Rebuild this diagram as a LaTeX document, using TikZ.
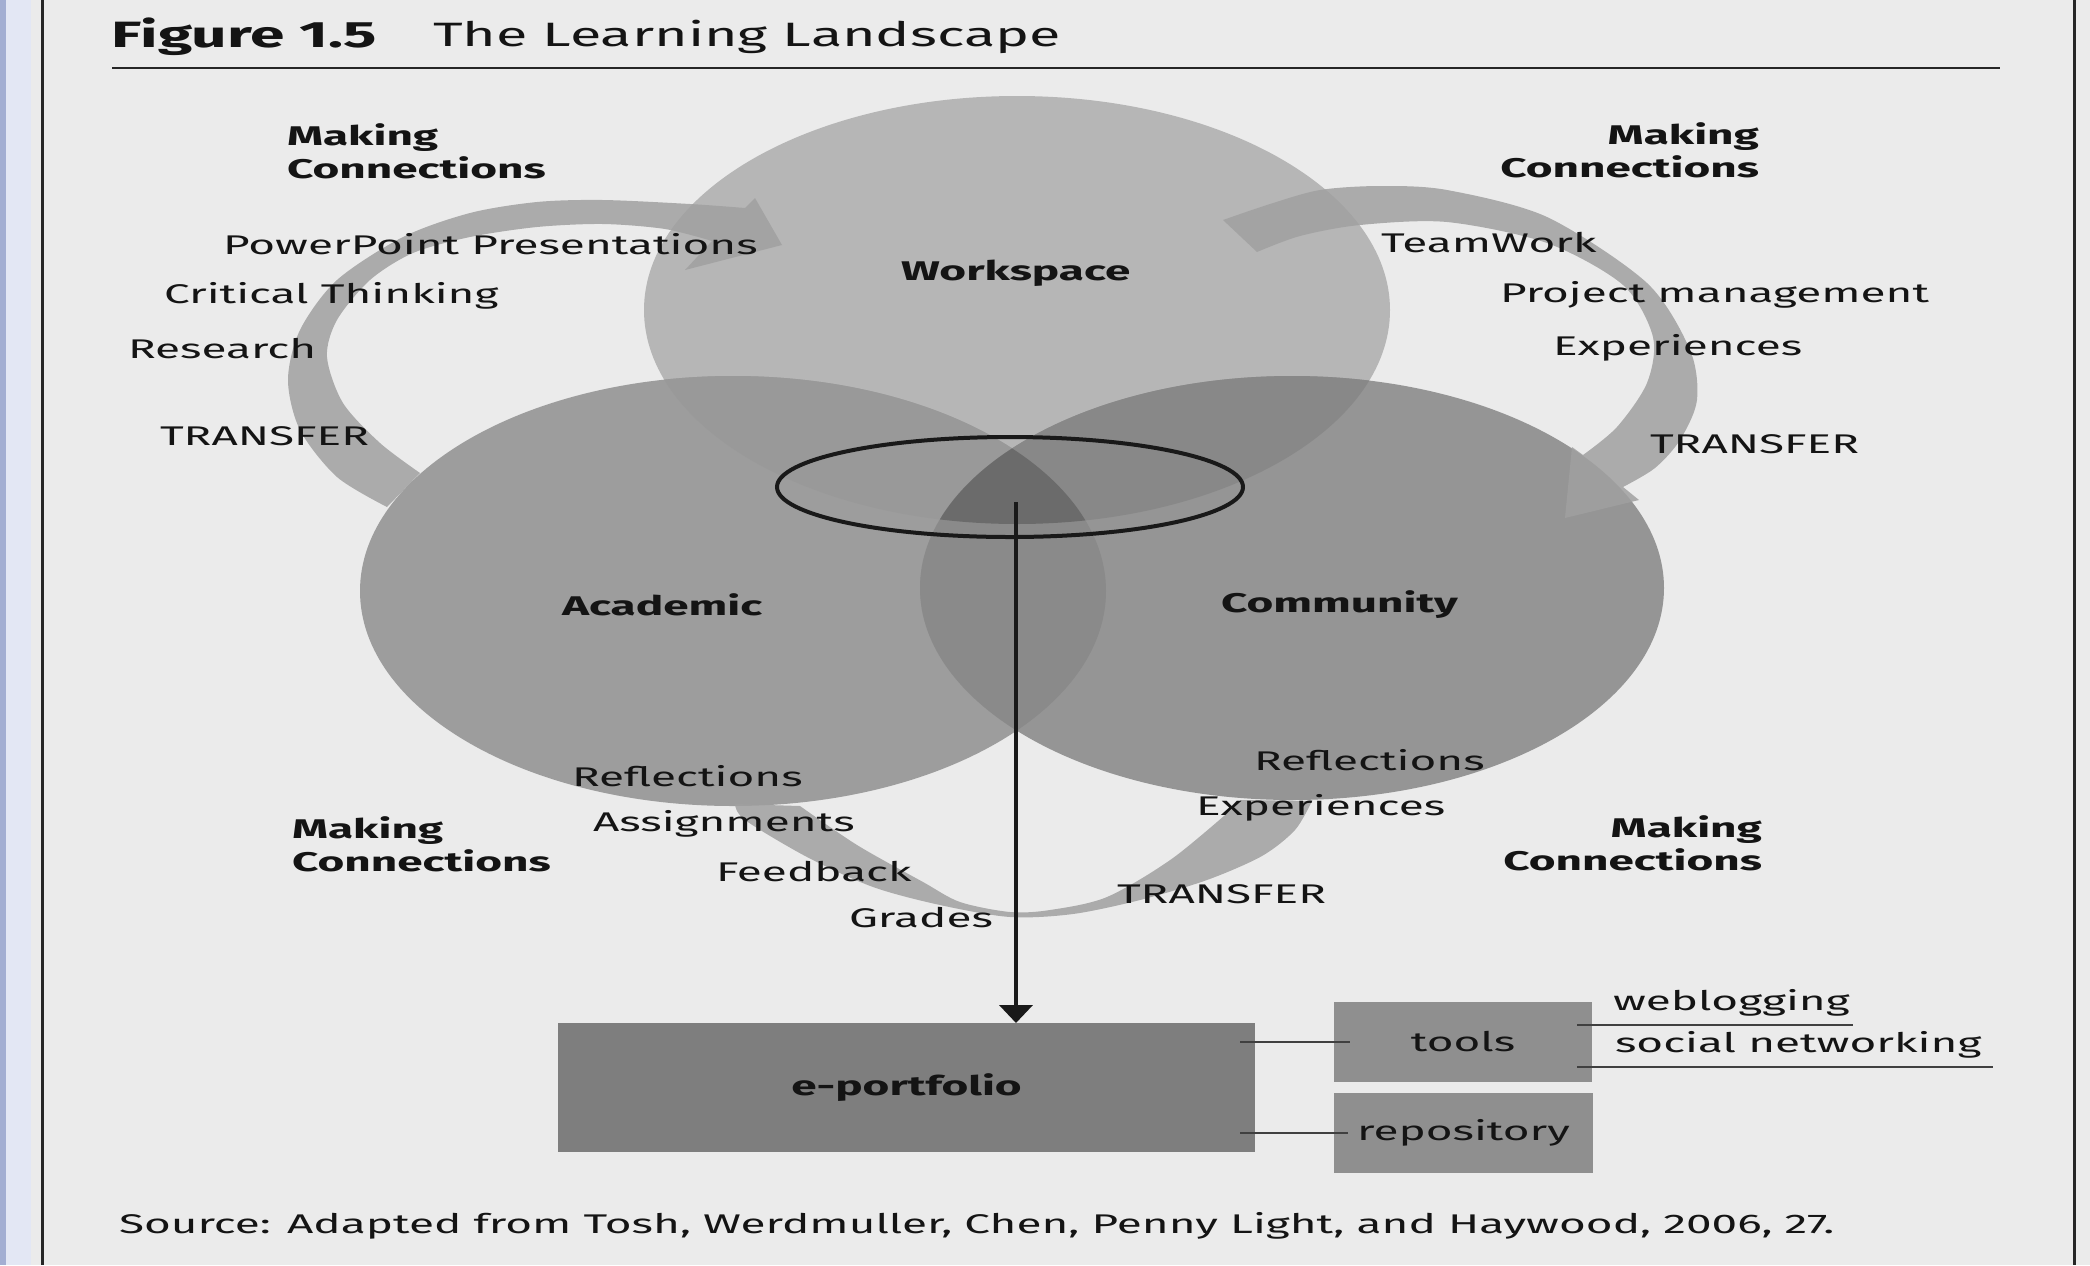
\documentclass[tikz,border=0pt]{standalone}
\usepackage{fontspec}
\setmainfont{Fira Sans}[FakeStretch=1.7]
\usetikzlibrary{arrows.meta,calc}
\definecolor{bgc}{HTML}{EBEBEB}
\definecolor{stripc}{HTML}{E3E7F4}
\definecolor{stripd}{HTML}{A3AED2}
\definecolor{wcol}{HTML}{B6B6B6}
\definecolor{acol}{HTML}{9D9D9D}
\definecolor{ccol}{HTML}{959595}
\definecolor{wacol}{HTML}{999999}
\definecolor{wccol}{HTML}{888888}
\definecolor{accol}{HTML}{8A8A8A}
\definecolor{tricol}{HTML}{6B6B6B}
\definecolor{arccol}{HTML}{A0A0A0}
\definecolor{epcol}{HTML}{7E7E7E}
\definecolor{boxcol}{HTML}{8F8F8F}
\definecolor{txt}{HTML}{141414}
\begin{document}
\begin{tikzpicture}[x=0.5pt,y=-0.5pt,
  lbl/.style={font=\fontsize{13.5}{16.5}\selectfont, anchor=west, text=txt, inner sep=0pt, outer sep=0pt},
  blbl/.style={lbl, font=\fontsize{13.5}{16.5}\selectfont\bfseries},
  mc/.style={blbl, align=left},
  mcr/.style={blbl, align=right, anchor=east},
  arcfill/.style={fill=arccol, fill opacity=0.85},
  greybox/.style={rectangle, inner sep=0pt, outer sep=0pt, fill=boxcol, text=txt, font=\fontsize{13.5}{16.5}\selectfont},
  conn/.style={line width=0.9pt, black!75}
]
\useasboundingbox (0,0) rectangle (2090,1265);
\fill[bgc] (0,0) rectangle (2090,1265);
\fill[stripc] (0,0) rectangle (31,1265);
\fill[stripd] (0,0) rectangle (6,1265);
\draw[line width=1.5pt, black!85] (42,0) -- (42,1265);
\draw[line width=1.5pt, black!85] (2074,0) -- (2074,1265);

% title
\node[lbl, font=\fontsize{18.3}{20}\selectfont\bfseries] (fig) at (112,37) {Figure 1.5};
\node[lbl, font=\fontsize{16.9}{19}\selectfont] (ttl) at (433,37) {The Learning Landscape};
\draw[line width=1pt, black!85] (112,68) -- (2000,68);

% three overlapping spheres
\fill[wcol] (1017,310) ellipse [x radius=186.5pt, y radius=107pt];
\fill[acol] (733,591) ellipse [x radius=186.5pt, y radius=107.5pt];
\fill[ccol] (1292,588) ellipse [x radius=186pt, y radius=106pt];
\begin{scope}
  \clip (733,591) ellipse [x radius=186.5pt, y radius=107.5pt];
  \fill[wacol] (1017,310) ellipse [x radius=186.5pt, y radius=107pt];
\end{scope}
\begin{scope}
  \clip (1292,588) ellipse [x radius=186pt, y radius=106pt];
  \fill[wccol] (1017,310) ellipse [x radius=186.5pt, y radius=107pt];
\end{scope}
\begin{scope}
  \clip (733,591) ellipse [x radius=186.5pt, y radius=107.5pt];
  \fill[accol] (1292,588) ellipse [x radius=186pt, y radius=106pt];
\end{scope}
\begin{scope}
  \clip (733,591) ellipse [x radius=186.5pt, y radius=107.5pt];
  \clip (1292,588) ellipse [x radius=186pt, y radius=106pt];
  \fill[tricol] (1017,310) ellipse [x radius=186.5pt, y radius=107pt];
\end{scope}

% top-left cycle arrow
\fill[arcfill] plot[smooth] coordinates {(420,473) (380,443) (343,403) (327,357) (337,320) (370,280) (413,253) (470,237) (537,227) (603,224) (665,229) (712,241)}
  -- (685,270) -- (782,245) -- (755,198)
  -- plot[smooth] coordinates {(745,208) (690,204) (603,200) (537,202) (470,213) (403,237) (337,280) (300,330) (288,380) (300,430) (337,477) (387,507)} -- cycle;
% top-right cycle arrow
\fill[arcfill] plot[smooth] coordinates {(1223,220) (1270,204) (1320,190) (1380,186) (1447,190) (1547,217) (1647,283) (1690,350) (1697,400) (1680,440) (1655,468) (1623,487)}
  -- (1639,500) -- (1565,518) -- (1572,447)
  -- plot[smooth] coordinates {(1583,455) (1617,427) (1647,383) (1653,337) (1623,285) (1547,243) (1447,222) (1360,225) (1300,236) (1257,252)} -- cycle;
% bottom crescent
\fill[arcfill] plot[smooth] coordinates {(735,804) (745,820) (807,857) (873,887) (940,905) (1010,917) (1073,914) (1140,900) (1207,880) (1262,856) (1295,830) (1312,801)}
  -- (1240,800)
  -- plot[smooth] coordinates {(1240,802) (1173,858) (1107,897) (1050,910) (1010,912) (960,902) (923,882) (857,845) (800,806)} -- cycle;

% focus ellipse and arrow
\draw[line width=2pt, black!90] (1010,487) ellipse [x radius=116.5pt, y radius=25pt];
\coordinate (start) at (1016,502);

% boxes
\node[greybox, fill=epcol, minimum width=348.5pt, minimum height=64.5pt, font=\fontsize{13.5}{16.5}\selectfont\bfseries] (eport) at (906.5,1087.5) {e-portfolio};
\node[greybox, minimum width=129pt, minimum height=40pt] (tools) at (1463,1042) {tools};
\node[greybox, minimum width=129.5pt, minimum height=40pt] (repo) at (1463.5,1133) {repository};

\draw[line width=2pt, black!90, -{Triangle[width=16.5pt,length=9pt]}] (start) -- (start |- eport.north);
\draw[conn] ([xshift=-7.5pt]eport.east |- tools.west) -- ([xshift=8pt]tools.west);
\draw[conn] ([xshift=-7.5pt]eport.east |- repo.west) -- ([xshift=7pt]repo.west);

\node[lbl] (wb) at (1613,1003) {weblogging};
\node[lbl] (sn) at (1615,1045) {social networking};
\coordinate (u1) at ([xshift=-7.5pt]tools.east |- 0,1025);
\coordinate (u2) at ([xshift=-7.5pt]tools.east |- 0,1067);
\draw[conn] (u1) -- (u1 -| 1853,0);
\draw[conn] (u2) -- (u2 -| 1993,0);

% sphere labels
\node[blbl] (ws) at (901,273) {Workspace};
\node[blbl] (ac) at (562,605) {Academic};
\node[blbl] (cm) at (1221,605) {Community};

% making connections
\node[mc] (mc1) at (287,151) {Making\\Connections};
\node[mcr] (mc2) at (1759,150) {Making\\Connections};
\node[mc] (mc3) at (292,844) {Making\\Connections};
\node[mcr] (mc4) at (1762,843) {Making\\Connections};

% item labels
\node[lbl] (t1) at (223,244) {PowerPoint Presentations};
\node[lbl] (t2) at (164,296) {Critical Thinking};
\node[lbl] (t3) at (128,349) {Research};
\node[lbl] (t4) at (160,436) {TRANSFER};
\node[lbl] (r1) at (1381,243) {TeamWork};
\node[lbl] (r2) at (1500,295) {Project management};
\node[lbl] (r3) at (1553,348) {Experiences};
\node[lbl] (r4) at (1650,444) {TRANSFER};
\node[lbl] (b1) at (572,776) {Reflections};
\node[lbl] (b2) at (593,824) {Assignments};
\node[lbl] (b3) at (716,872) {Feedback};
\node[lbl] (b4) at (849,918) {Grades};
\node[lbl] (c1) at (1254,760) {Reflections};
\node[lbl] (c2) at (1196,808) {Experiences};
\node[lbl] (c3) at (1117,894) {TRANSFER};

\node[lbl] (src) at (119,1226) {Source: Adapted from Tosh, Werdmuller, Chen, Penny Light, and Haywood, 2006, 27.};
\end{tikzpicture}
\end{document}
